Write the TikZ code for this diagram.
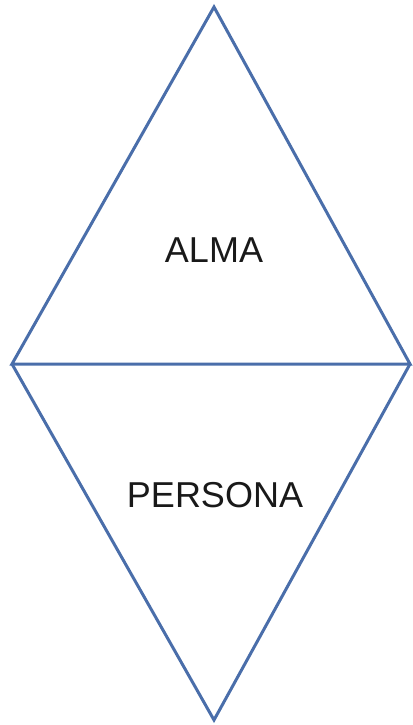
\documentclass[tikz,border=0pt]{standalone}
\usepackage{fontspec}
\setmainfont{Liberation Sans}
\definecolor{edgeblue}{HTML}{4A6EAA}
\begin{document}
\begin{tikzpicture}[x=1pt,y=-1pt,
  tri/.style={draw=edgeblue,line width=3pt,line join=miter},
  lbl/.style={font=\fontsize{36}{40}\selectfont,text=black!90,inner sep=0pt}]
\useasboundingbox (0,0) rectangle (412,725);
\coordinate (top) at (214,7);
\coordinate (left) at (12,364);
\coordinate (right) at (410,364);
\coordinate (bot) at (214,720);
\draw[tri] (top) -- (right) -- (left) -- cycle;
\draw[tri] (left) -- (bot) -- (right);
\node[lbl] (alma) at (214,250) {ALMA};
\node[lbl] (persona) at (215,495.5) {PERSONA};
\end{tikzpicture}
\end{document}
